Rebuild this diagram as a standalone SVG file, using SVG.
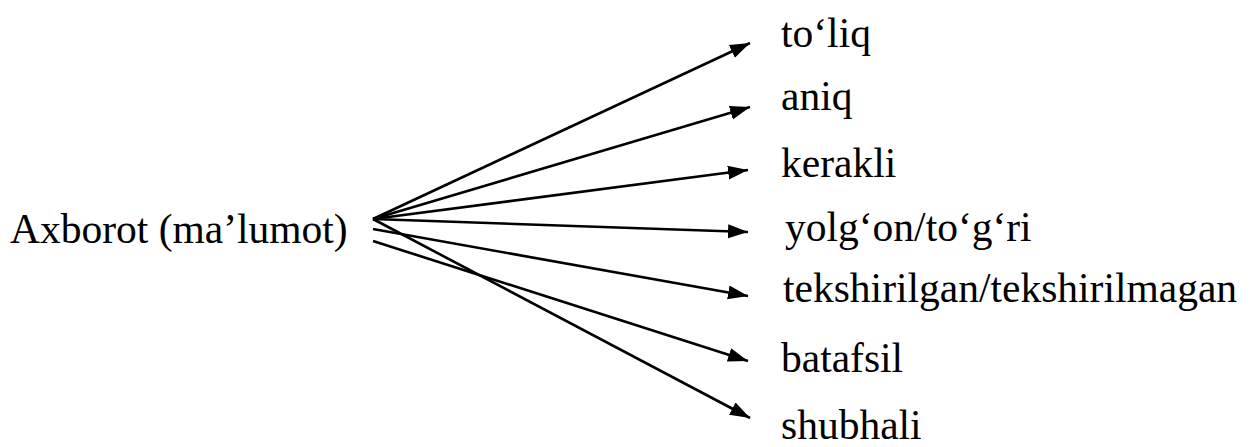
<svg xmlns="http://www.w3.org/2000/svg" width="1252" height="447" viewBox="0 0 1252 447">
<style>
.c{stroke:#000;stroke-width:2.6;fill:none;marker-end:url(#ah)}
</style>
<defs>
<marker id="ah" markerUnits="userSpaceOnUse" markerWidth="22" markerHeight="18" viewBox="0 0 22 18" refX="20" refY="9" orient="auto">
<polygon points="0,2 20,9 0,16" fill="#000"/>
</marker>
</defs>
<rect width="1252" height="447" fill="#fff"/>
<g id="connectors">
<line class="c" x1="373" y1="219" x2="750" y2="43"/>
<line class="c" x1="373" y1="219" x2="750" y2="107"/>
<line class="c" x1="373" y1="219" x2="748" y2="170"/>
<line class="c" x1="373" y1="219" x2="748" y2="232"/>
<line class="c" x1="373" y1="229" x2="748" y2="296"/>
<line class="c" x1="373" y1="241" x2="748" y2="361"/>
<line class="c" x1="373" y1="219" x2="750" y2="418"/>
</g>
<g font-size="41.5" fill="#000">
<g id="source"><text x="10" y="243" font-family="serif">Axborot (ma’lumot)</text></g>
<g id="n1"><text x="781" y="47" font-family="Times New Roman">to‘liq</text></g>
<g id="n2"><text x="781" y="110" font-family="serif">aniq</text></g>
<g id="n3"><text x="781" y="177" font-family="Tinos">kerakli</text></g>
<g id="n4"><text x="785" y="241" font-family="Liberation Serif">yolg‘on/to‘g‘ri</text></g>
<g id="n5"><text x="783" y="302" font-family="serif">tekshirilgan/tekshirilmagan</text></g>
<g id="n6"><text x="781" y="372" font-family="Tinos">batafsil</text></g>
<g id="n7"><text x="781" y="439" font-family="Times New Roman">shubhali</text></g>
</g>
</svg>
